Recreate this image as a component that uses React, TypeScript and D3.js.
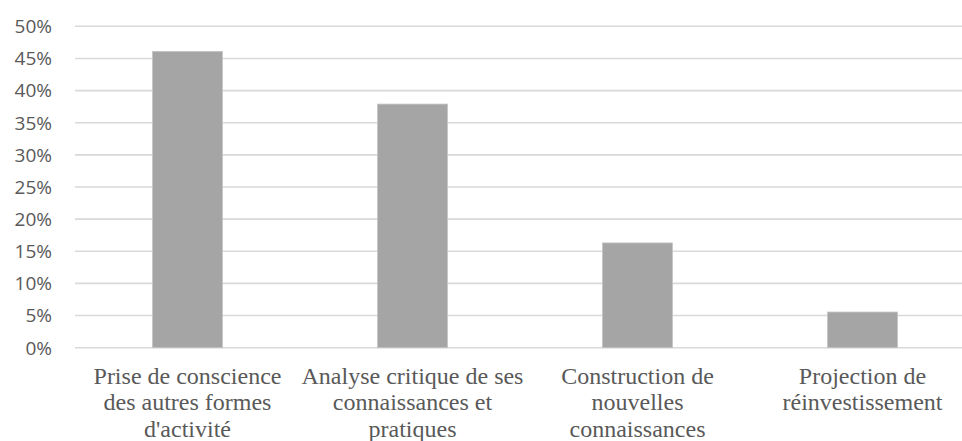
import React from "react";
import * as d3 from "d3";

const categories: string[][] = [
  ["Prise de conscience", "des autres formes", "d'activité"],
  ["Analyse critique de ses", "connaissances et", "pratiques"],
  ["Construction de", "nouvelles", "connaissances"],
  ["Projection de", "réinvestissement"],
];
const values: number[] = [0.461, 0.379, 0.163, 0.0555];
const yTicks: number[] = [0, 0.05, 0.1, 0.15, 0.2, 0.25, 0.3, 0.35, 0.4, 0.45, 0.5];

const W = 962;
const H = 441;

export default function App() {
  const x = d3
    .scaleBand<number>()
    .domain(values.map((_, i) => i))
    .range([75, 975])
    .paddingInner(0.689)
    .paddingOuter(0.3445);
  const y = d3.scaleLinear().domain([0, 0.5]).range([347.7, 26.3]);
  const fmt = d3.format(".0%");

  return (
    <svg
      width={W}
      height={H}
      style={{ position: "fixed", top: 0, left: 0, background: "#fff" }}
    >
      <rect x={0} y={0} width={W} height={H} fill="#fff" />
      {yTicks.map((t) => (
        <g key={t}>
          <line x1={75} x2={975} y1={y(t)} y2={y(t)} stroke="#d9d9d9" strokeWidth={1.6} />
          <text
            x={52}
            y={y(t)}
            dy="0.36em"
            textAnchor="end"
            fontFamily="'Open Sans', sans-serif"
            fontSize={19}
            fill="#595959"
          >
            {fmt(t)}
          </text>
        </g>
      ))}
      {values.map((v, i) => (
        <rect
          key={i}
          x={x(i)!}
          y={y(v)}
          width={x.bandwidth()}
          height={y(0) - y(v)}
          fill="#a5a5a5"
          stroke="#c4c4c4"
          strokeWidth={0.8}
        />
      ))}
      {categories.map((lines, i) => (
        <text
          key={i}
          x={x(i)! + x.bandwidth() / 2}
          y={y(0) + 36.4}
          textAnchor="middle"
          fontFamily="'Liberation Serif', 'Times New Roman', serif"
          fontSize={24}
          fill="#595959"
        >
          {lines.map((l, j) => (
            <tspan key={j} x={x(i)! + x.bandwidth() / 2} dy={j === 0 ? 0 : 26.3}>
              {l}
            </tspan>
          ))}
        </text>
      ))}
    </svg>
  );
}
